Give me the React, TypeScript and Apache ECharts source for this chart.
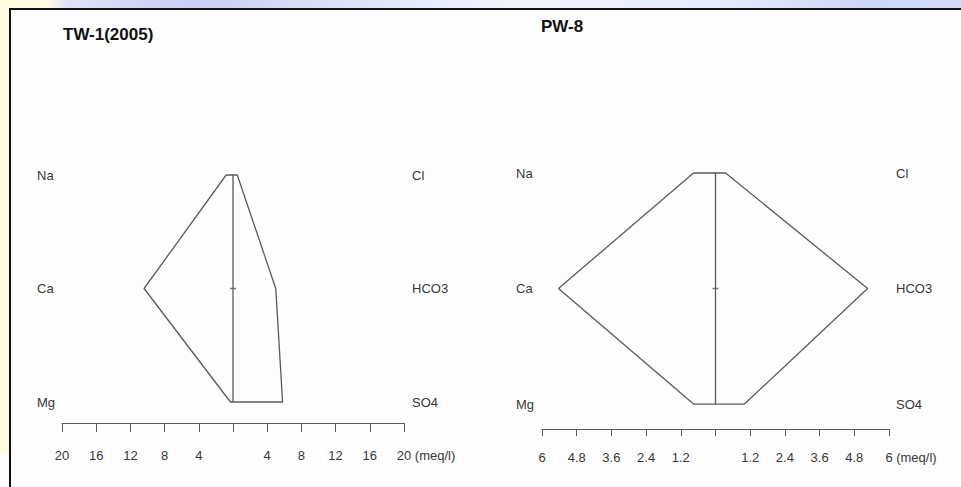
import React, { useEffect, useRef } from "react";
import * as echarts from "echarts";

const cationNames = ["Na", "Ca", "Mg"];
const anionNames = ["Cl", "HCO3", "SO4"];

const tw1Title = "TW-1(2005)";
const tw1Cations = [0.8, 10.4, 0.3];
const tw1Anions = [0.5, 5.0, 5.8];
const tw1Max = 20;
const tw1Step = 4;

const pw8Title = "PW-8";
const pw8Cations = [0.76, 5.43, 0.76];
const pw8Anions = [0.35, 5.26, 1.0];
const pw8Max = 6;
const pw8Step = 1.2;

const unitLabel = "(meq/l)";

const FONT = "'Liberation Sans', Arial, sans-serif";
const FS = 13;
const LINE = "#5a5a5a";
const TXT = "#383838";

function polygon(cat: number[], an: number[]) {
  const pts: number[][] = [];
  for (let i = 0; i < cat.length; i++) pts.push([-cat[i], i]);
  for (let i = an.length - 1; i >= 0; i--) pts.push([an[i], i]);
  pts.push([-cat[0], 0]);
  return pts;
}

export default function App() {
  const ref = useRef<HTMLDivElement>(null);
  useEffect(() => {
    if (!ref.current) return;
    const chart = echarts.init(ref.current, undefined, { renderer: "svg" });

    const panels = [
      { title: tw1Title, cat: tw1Cations, an: tw1Anions, max: tw1Max, step: tw1Step, left: 62, width: 342, top: 175, height: 248, ymax: 2.185, tick: 9, lblMargin: 26, lMargin: 25, rMargin: 8, tx: 63, ty: 26 },
      { title: pw8Title, cat: pw8Cations, an: pw8Anions, max: pw8Max, step: pw8Step, left: 542, width: 347, top: 173, height: 256, ymax: 2.216, tick: 7, lblMargin: 22, lMargin: 26, rMargin: 7, tx: 541, ty: 18 },
    ];

    const grid: any[] = [];
    const xAxis: any[] = [];
    const yAxis: any[] = [];
    const series: any[] = [];
    const titles: any[] = [];

    panels.forEach((p, i) => {
      grid.push({ left: p.left, top: p.top, width: p.width, height: p.height, containLabel: false });
      xAxis.push({
        type: "value",
        gridIndex: i,
        min: -p.max,
        max: p.max,
        interval: p.step,
        position: "bottom",
        splitLine: { show: false },
        axisLine: { show: true, onZero: false, lineStyle: { color: LINE, width: 1 } },
        axisTick: { show: true, length: p.tick, inside: false, lineStyle: { color: LINE, width: 1 } },
        axisLabel: {
          show: true,
          margin: p.lblMargin,
          color: TXT,
          fontSize: FS,
          fontFamily: FONT,
          showMinLabel: true,
          showMaxLabel: true,
          formatter: (v: number) => {
            const a = Math.abs(Math.round(v * 10) / 10);
            if (a === 0) return "";
            return String(a);
          },
        },
      });
      const yBase = {
        type: "value",
        gridIndex: i,
        min: 0,
        max: p.ymax,
        interval: 1,
        inverse: true,
        splitLine: { show: false },
        axisLine: { show: false },
        axisTick: { show: false },
      };
      yAxis.push({
        ...yBase,
        position: "left",
        axisLabel: {
          margin: p.lMargin,
          align: "left",
          color: TXT,
          fontSize: FS,
          fontFamily: FONT,
          formatter: (v: number) => (Number.isInteger(v) && cationNames[v] ? cationNames[v] : ""),
        },
      });
      yAxis.push({
        ...yBase,
        position: "right",
        axisLabel: {
          margin: p.rMargin,
          align: "left",
          color: TXT,
          fontSize: FS,
          fontFamily: FONT,
          formatter: (v: number) => (Number.isInteger(v) && anionNames[v] ? anionNames[v] : ""),
        },
      });
      series.push({
        type: "line",
        xAxisIndex: i,
        yAxisIndex: i * 2,
        data: polygon(p.cat, p.an),
        symbol: "none",
        clip: false,
        lineStyle: { color: LINE, width: 1.3 },
        silent: true,
      });
      series.push({
        type: "line",
        xAxisIndex: i,
        yAxisIndex: i * 2,
        data: [[0, 0], [0, cationNames.length - 1]],
        symbol: "none",
        clip: false,
        lineStyle: { color: LINE, width: 1.3 },
        silent: true,
      });
      series.push({
        type: "scatter",
        xAxisIndex: i,
        yAxisIndex: i * 2,
        data: [[0, 1]],
        symbol: "rect",
        symbolSize: [6, 1.5],
        itemStyle: { color: LINE },
        silent: true,
      });
      titles.push({
        text: p.title,
        left: p.tx,
        top: p.ty,
        textStyle: { fontSize: 17, fontWeight: "bold", fontFamily: FONT, color: "#111" },
        padding: 0,
      });
    });

    const bgGraphics: any[] = [
      {
        type: "rect",
        shape: { x: 0, y: 0, width: 961, height: 9 },
        style: {
          fill: new echarts.graphic.LinearGradient(0, 0, 1, 0, [
            { offset: 0, color: "#fffbe2" },
            { offset: 0.05, color: "#fffbe2" },
            { offset: 0.07, color: "#dfe2f8" },
            { offset: 0.2, color: "#c9cdf3" },
            { offset: 0.3, color: "#d6dbf7" },
            { offset: 0.55, color: "#f3f5fd" },
            { offset: 0.75, color: "#e4e9fb" },
            { offset: 0.9, color: "#cfd7f8" },
            { offset: 1, color: "#d3dcf9" },
          ]),
        },
        silent: true,
      },
      {
        type: "rect",
        shape: { x: 0, y: 9, width: 9, height: 445 },
        style: { fill: "#fffde1" },
        silent: true,
      },
      {
        type: "line",
        shape: { x1: 9, y1: 9, x2: 961, y2: 9 },
        style: { stroke: "#111", lineWidth: 2 },
        silent: true,
      },
      {
        type: "line",
        shape: { x1: 10, y1: 8, x2: 10, y2: 487 },
        style: { stroke: "#111", lineWidth: 2 },
        silent: true,
      },
    ];

    chart.setOption({
      animation: false,
      backgroundColor: "#fdfdfd",
      title: titles,
      grid,
      xAxis,
      yAxis,
      series,
      graphic: bgGraphics,
    });

    // unit labels placed right after the max tick label of each axis
    const unitGraphics = panels.map((p, i) => {
      const px = chart.convertToPixel({ xAxisIndex: i }, p.max) as number;
      const maxW = String(p.max).length * 7.2;
      return {
        type: "text",
        x: px + maxW / 2 + 3.6,
        y: p.top + p.height + p.lblMargin,
        style: {
          text: unitLabel,
          fill: TXT,
          fontSize: FS,
          fontFamily: FONT,
          align: "left",
          verticalAlign: "top",
        },
        silent: true,
      };
    });
    chart.setOption({ graphic: [...bgGraphics, ...unitGraphics] });

    return () => chart.dispose();
  }, []);
  return <div ref={ref} style={{ position: "fixed", left: 0, top: 0, width: 961, height: 487 }} />;
}
